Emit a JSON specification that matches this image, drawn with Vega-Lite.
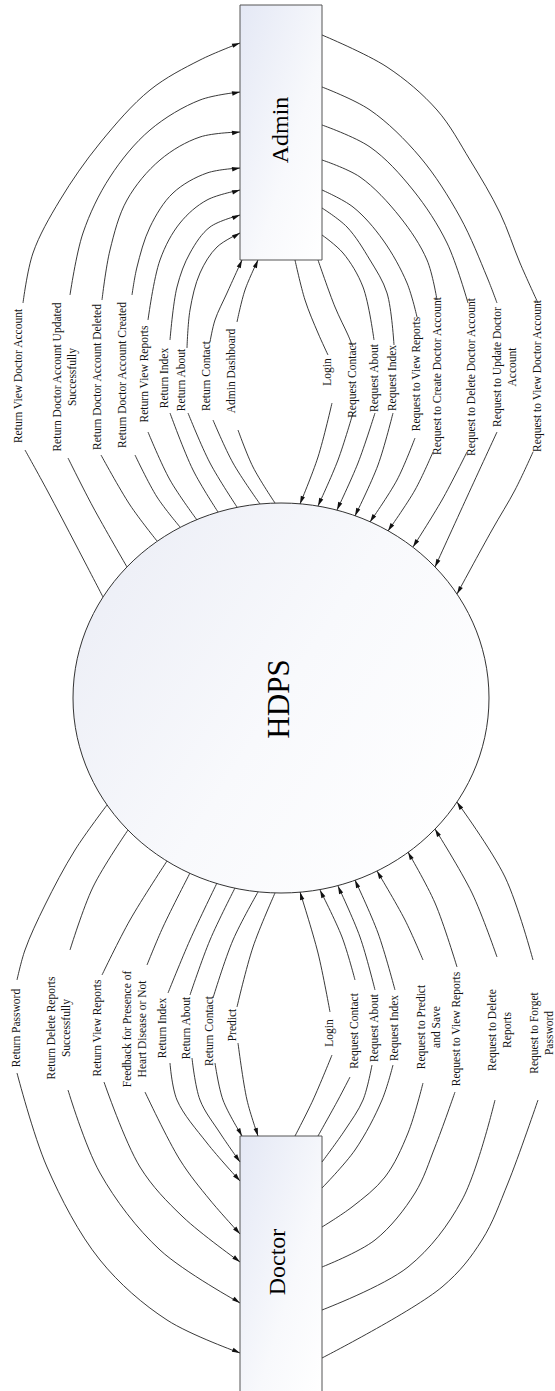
{
  "$schema": "https://vega.github.io/schema/vega-lite/v6.json",
  "width": 555,
  "height": 1391,
  "autosize": {"type": "none"},
  "padding": 0,
  "background": "white",
  "config": {"view": {"stroke": null}},
  "datasets": {
    "ellipse": [{"name": "HDPS", "x": 281, "y": 698}],
    "boxes": [
      {"name": "Admin", "x": 240, "x2": 322, "y": 5, "y2": 260},
      {"name": "Doctor", "x": 240, "x2": 322, "y": 1136, "y2": 1400}
    ],
    "arcs": [
      {"s": "AL1a", "x": [240, 200, 150, 100, 60, 33, 23], "y": [43, 60, 90, 143, 200, 253, 303]},
      {"s": "AL1b", "x": [25, 47, 77, 103], "y": [450, 490, 547, 597]},
      {"s": "AL2a", "x": [240, 200, 150, 110, 83, 70], "y": [92, 100, 130, 177, 233, 295]},
      {"s": "AL2b", "x": [68, 93, 127], "y": [458, 507, 567]},
      {"s": "AL3a", "x": [240, 200, 160, 127, 110, 102], "y": [132, 137, 160, 200, 250, 300]},
      {"s": "AL3b", "x": [101, 130, 157], "y": [455, 505, 541]},
      {"s": "AL4a", "x": [240, 207, 173, 150, 137, 132], "y": [168, 173, 193, 227, 267, 295]},
      {"s": "AL4b", "x": [135, 157, 180], "y": [455, 497, 527]},
      {"s": "AL5a", "x": [240, 207, 180, 160, 148], "y": [190, 200, 223, 260, 320]},
      {"s": "AL5b", "x": [148, 170, 197], "y": [432, 480, 520]},
      {"s": "AL6a", "x": [240, 210, 190, 177, 170], "y": [215, 227, 253, 287, 340]},
      {"s": "AL6b", "x": [170, 193, 218], "y": [413, 470, 512]},
      {"s": "AL7a", "x": [240, 217, 200, 190, 187], "y": [233, 247, 273, 310, 348]},
      {"s": "AL7b", "x": [188, 210, 237], "y": [413, 463, 507]},
      {"s": "AL8a", "x": [242, 227, 215, 210], "y": [260, 293, 320, 342]},
      {"s": "AL8b", "x": [213, 233, 260], "y": [420, 463, 504]},
      {"s": "AL9a", "x": [258, 245, 237], "y": [260, 290, 322]},
      {"s": "AL9b", "x": [238, 253, 275], "y": [430, 467, 503]},
      {"s": "AR1a", "x": [295, 305, 318, 328], "y": [260, 300, 333, 355]},
      {"s": "AR1b", "x": [332, 318, 300], "y": [403, 457, 504]},
      {"s": "AR2a", "x": [318, 335, 348, 353], "y": [260, 307, 335, 347]},
      {"s": "AR2b", "x": [353, 338, 318], "y": [413, 460, 506]},
      {"s": "AR3a", "x": [322, 343, 363, 374], "y": [235, 253, 287, 340]},
      {"s": "AR3b", "x": [375, 358, 337], "y": [413, 463, 510]},
      {"s": "AR4a", "x": [322, 347, 370, 387, 394], "y": [208, 227, 260, 293, 345]},
      {"s": "AR4b", "x": [393, 378, 355], "y": [413, 465, 516]},
      {"s": "AR5a", "x": [322, 353, 383, 407, 417], "y": [190, 207, 240, 283, 317]},
      {"s": "AR5b", "x": [415, 397, 370], "y": [438, 480, 522]},
      {"s": "AR6a", "x": [322, 360, 400, 427, 437], "y": [160, 177, 217, 260, 300]},
      {"s": "AR6b", "x": [433, 415, 388], "y": [452, 490, 531]},
      {"s": "AR7a", "x": [322, 370, 413, 447, 468], "y": [125, 147, 190, 243, 303]},
      {"s": "AR7b", "x": [467, 442, 413], "y": [452, 500, 547]},
      {"s": "AR8a", "x": [322, 370, 420, 460, 487, 497], "y": [87, 110, 157, 217, 277, 303]},
      {"s": "AR8b", "x": [497, 467, 435], "y": [432, 497, 567]},
      {"s": "AR9a", "x": [322, 387, 437, 470, 500, 520, 538], "y": [35, 67, 110, 160, 213, 263, 303]},
      {"s": "AR9b", "x": [533, 515, 492, 457], "y": [452, 490, 530, 594]},
      {"s": "DL1a", "x": [107, 75, 45, 25, 17], "y": [805, 850, 905, 950, 980]},
      {"s": "DL1b", "x": [17, 47, 100, 167, 240], "y": [1073, 1167, 1260, 1320, 1353]},
      {"s": "DL2a", "x": [128, 93, 70], "y": [830, 887, 950]},
      {"s": "DL2b", "x": [68, 100, 160, 240], "y": [1090, 1173, 1250, 1303]},
      {"s": "DL3a", "x": [167, 130, 102], "y": [861, 920, 975]},
      {"s": "DL3b", "x": [104, 140, 183, 240], "y": [1082, 1167, 1217, 1262]},
      {"s": "DL4a", "x": [190, 163, 147], "y": [873, 927, 965]},
      {"s": "DL4b", "x": [145, 180, 210, 240], "y": [1092, 1160, 1200, 1234]},
      {"s": "DL5a", "x": [217, 190, 168], "y": [883, 940, 993]},
      {"s": "DL5b", "x": [170, 177, 207, 240], "y": [1063, 1100, 1143, 1181]},
      {"s": "DL6a", "x": [235, 210, 190], "y": [888, 940, 995]},
      {"s": "DL6b", "x": [192, 200, 220, 240], "y": [1058, 1100, 1133, 1162]},
      {"s": "DL7a", "x": [258, 233, 213], "y": [892, 940, 998]},
      {"s": "DL7b", "x": [215, 223, 242], "y": [1063, 1100, 1136]},
      {"s": "DL8a", "x": [275, 253, 237], "y": [893, 947, 1007]},
      {"s": "DL8b", "x": [238, 247, 258], "y": [1043, 1100, 1136]},
      {"s": "DR1a", "x": [295, 313, 332], "y": [1136, 1100, 1055]},
      {"s": "DR1b", "x": [330, 318, 300], "y": [1012, 953, 892]},
      {"s": "DR2a", "x": [318, 338, 350], "y": [1136, 1100, 1077]},
      {"s": "DR2b", "x": [355, 342, 320], "y": [980, 937, 890]},
      {"s": "DR3a", "x": [322, 345, 363, 372], "y": [1162, 1130, 1100, 1065]},
      {"s": "DR3b", "x": [375, 360, 338], "y": [990, 937, 886]},
      {"s": "DR4a", "x": [322, 355, 382, 393], "y": [1188, 1150, 1100, 1065]},
      {"s": "DR4b", "x": [395, 378, 355], "y": [990, 933, 880]},
      {"s": "DR5a", "x": [322, 352, 385, 408, 423], "y": [1227, 1207, 1177, 1133, 1083]},
      {"s": "DR5b", "x": [423, 405, 377], "y": [960, 920, 871]},
      {"s": "DR6a", "x": [322, 375, 415, 435, 455], "y": [1267, 1240, 1193, 1147, 1092]},
      {"s": "DR6b", "x": [457, 435, 408], "y": [967, 903, 852]},
      {"s": "DR7a", "x": [322, 408, 462, 495], "y": [1310, 1267, 1200, 1100]},
      {"s": "DR7b", "x": [497, 472, 435], "y": [957, 893, 829]},
      {"s": "DR8a", "x": [322, 442, 482, 508, 538], "y": [1358, 1287, 1240, 1183, 1100]},
      {"s": "DR8b", "x": [533, 505, 457], "y": [960, 877, 802]}
    ],
    "arrows": [
      {"x": 240, "y": 43, "h": 70}, {"x": 240, "y": 92, "h": 79}, {"x": 240, "y": 132, "h": 83},
      {"x": 240, "y": 168, "h": 81}, {"x": 240, "y": 190, "h": 73}, {"x": 240, "y": 215, "h": 68},
      {"x": 240, "y": 233, "h": 59}, {"x": 242, "y": 260, "h": 24}, {"x": 258, "y": 260, "h": 23},
      {"x": 300, "y": 504, "h": 201}, {"x": 318, "y": 506, "h": 204}, {"x": 337, "y": 510, "h": 204},
      {"x": 355, "y": 516, "h": 204}, {"x": 370, "y": 522, "h": 213}, {"x": 388, "y": 531, "h": 213},
      {"x": 413, "y": 547, "h": 212}, {"x": 435, "y": 567, "h": 205}, {"x": 457, "y": 594, "h": 209},
      {"x": 240, "y": 1353, "h": 114}, {"x": 240, "y": 1303, "h": 124}, {"x": 240, "y": 1262, "h": 128},
      {"x": 240, "y": 1234, "h": 139}, {"x": 240, "y": 1181, "h": 139}, {"x": 240, "y": 1162, "h": 145},
      {"x": 242, "y": 1136, "h": 152}, {"x": 258, "y": 1136, "h": 163},
      {"x": 300, "y": 892, "h": 344}, {"x": 320, "y": 890, "h": 335}, {"x": 338, "y": 886, "h": 337},
      {"x": 355, "y": 880, "h": 337}, {"x": 377, "y": 871, "h": 330}, {"x": 408, "y": 852, "h": 332},
      {"x": 435, "y": 829, "h": 330}, {"x": 457, "y": 802, "h": 327}
    ],
    "labels": [
      {"t": "Return View Doctor Account", "x": 19, "y": 376},
      {"t": "Return Doctor Account Updated\nSuccessfully", "x": 58, "y": 377},
      {"t": "Return Doctor Account Deleted", "x": 98, "y": 377},
      {"t": "Return Doctor Account Created", "x": 123, "y": 375},
      {"t": "Return View Reports", "x": 145, "y": 374},
      {"t": "Return Index", "x": 165, "y": 378},
      {"t": "Return About", "x": 182, "y": 380},
      {"t": "Return Contact", "x": 207, "y": 376},
      {"t": "Admin Dashboard", "x": 232, "y": 371},
      {"t": "Login", "x": 328, "y": 372},
      {"t": "Request Contact", "x": 353, "y": 380},
      {"t": "Request About", "x": 375, "y": 378},
      {"t": "Request Index", "x": 393, "y": 378},
      {"t": "Request to View Reports", "x": 417, "y": 374},
      {"t": "Request to Create Doctor Account", "x": 438, "y": 376},
      {"t": "Request to Delete Doctor Account", "x": 472, "y": 377},
      {"t": "Request to Update Doctor\nAccount", "x": 498, "y": 367},
      {"t": "Request to View Doctor Account", "x": 538, "y": 376},
      {"t": "Return Password", "x": 17, "y": 1028},
      {"t": "Return Delete Reports\nSuccessfully", "x": 52, "y": 1028},
      {"t": "Return View Reports", "x": 98, "y": 1028},
      {"t": "Feedback for Presence of\nHeart Disease or Not", "x": 128, "y": 1029},
      {"t": "Return Index", "x": 163, "y": 1028},
      {"t": "Return About", "x": 187, "y": 1028},
      {"t": "Return Contact", "x": 210, "y": 1031},
      {"t": "Predict", "x": 233, "y": 1025},
      {"t": "Login", "x": 330, "y": 1033},
      {"t": "Request Contact", "x": 355, "y": 1031},
      {"t": "Request About", "x": 375, "y": 1028},
      {"t": "Request Index", "x": 395, "y": 1028},
      {"t": "Request to Predict\nand Save", "x": 422, "y": 1027},
      {"t": "Request to View Reports", "x": 457, "y": 1029},
      {"t": "Request to Delete\nReports", "x": 493, "y": 1030},
      {"t": "Request to Forget\nPassword", "x": 535, "y": 1033}
    ],
    "entities": [
      {"t": "Admin", "x": 281, "y": 130},
      {"t": "Doctor", "x": 278, "y": 1262},
      {"t": "HDPS", "x": 280, "y": 699}
    ]
  },
  "encoding": {
    "x": {"field": "x", "type": "quantitative", "scale": {"domain": [0, 555], "nice": false, "zero": false}, "axis": null},
    "y": {"field": "y", "type": "quantitative", "scale": {"domain": [0, 1391], "nice": false, "zero": false, "reverse": true}, "axis": null}
  },
  "layer": [
    {
      "data": {"name": "ellipse"},
      "mark": {
        "type": "point",
        "shape": "M-1,0C-1,-0.5178,-0.5523,-0.9375,0,-0.9375C0.5523,-0.9375,1,-0.5178,1,0C1,0.5178,0.5523,0.9375,0,0.9375C-0.5523,0.9375,-1,0.5178,-1,0Z",
        "size": 173056,
        "filled": true,
        "opacity": 1,
        "fill": {"gradient": "linear", "x1": 0, "y1": 0.2, "x2": 1, "y2": 0.8, "stops": [{"offset": 0, "color": "#eceef6"}, {"offset": 0.5, "color": "#f8f9fc"}, {"offset": 1, "color": "#ffffff"}]},
        "stroke": "#333333",
        "strokeWidth": 1
      }
    },
    {
      "data": {"name": "boxes"},
      "mark": {
        "type": "rect",
        "clip": true,
        "fill": {"gradient": "linear", "x1": 0, "y1": 0, "x2": 1, "y2": 1, "stops": [{"offset": 0, "color": "#e4e8f5"}, {"offset": 0.6, "color": "#f8f9fc"}, {"offset": 1, "color": "#ffffff"}]},
        "stroke": "#555555",
        "strokeWidth": 1
      },
      "encoding": {"x2": {"field": "x2"}, "y2": {"field": "y2"}}
    },
    {
      "data": {"name": "arcs"},
      "transform": [{"flatten": ["x", "y"]}],
      "mark": {"type": "line", "interpolate": "catmull-rom", "color": "#222222", "strokeWidth": 0.9},
      "encoding": {"detail": {"field": "s", "type": "nominal"}, "order": {"value": null}}
    },
    {
      "data": {"name": "arrows"},
      "mark": {"type": "point", "shape": "M0,0L-0.55,2L0.55,2Z", "size": 64, "filled": true, "opacity": 1, "color": "#111111"},
      "encoding": {"angle": {"field": "h", "type": "quantitative", "scale": null}}
    },
    {
      "data": {"name": "labels"},
      "mark": {"type": "text", "angle": 270, "font": "Liberation Serif", "fontSize": 11.5, "lineBreak": "\n", "lineHeight": 15, "align": "center", "baseline": "middle", "color": "#111111"},
      "encoding": {"text": {"field": "t", "type": "nominal"}}
    },
    {
      "data": {"name": "entities"},
      "transform": [{"filter": "datum.t !== 'HDPS'"}],
      "mark": {"type": "text", "angle": 270, "font": "Liberation Serif", "fontSize": 24, "align": "center", "baseline": "middle", "color": "#000000"},
      "encoding": {"text": {"field": "t", "type": "nominal"}}
    },
    {
      "data": {"name": "entities"},
      "transform": [{"filter": "datum.t === 'HDPS'"}],
      "mark": {"type": "text", "angle": 270, "font": "Liberation Serif", "fontSize": 31, "align": "center", "baseline": "middle", "color": "#000000"},
      "encoding": {"text": {"field": "t", "type": "nominal"}}
    }
  ]
}
